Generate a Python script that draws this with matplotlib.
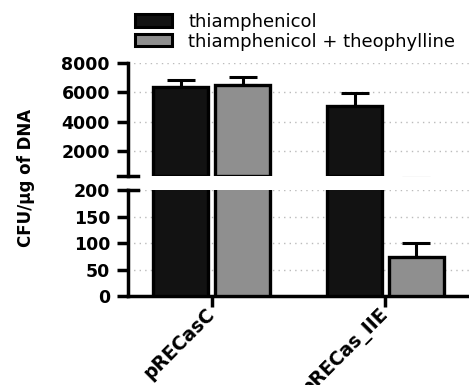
import numpy as np
import matplotlib.pyplot as plt
from matplotlib.patches import Patch
from matplotlib.lines import Line2D

plt.rcParams["font.family"] = ["DejaVu Sans"]

# ---------------------------------------------------------------------------
# Data
# ---------------------------------------------------------------------------
categories = ["pRECasC", "pRECas_IIE"]
series_names = ["thiamphenicol", "thiamphenicol + theophylline"]
thiam_mean = [6350, 5030]
thiam_err = [480, 900]
theo_mean = [6480, 74]
theo_err = [550, 26]

upper_ticks = [2000, 4000, 6000, 8000]
lower_ticks = [0, 50, 100, 150, 200]

colors = ["#121212", "#8f8f8f"]

# ---------------------------------------------------------------------------
# Figure: broken y axis made of two stacked axes
# ---------------------------------------------------------------------------
fig = plt.figure(figsize=(4.69, 3.85), dpi=100)
ax_hi = fig.add_axes([0.273, 0.543, 0.727, 0.293])
ax_lo = fig.add_axes([0.273, 0.231, 0.727, 0.275])

x = np.arange(len(categories))
w = 0.316
off = 0.178
hi_low = 270

for ax, base in ((ax_hi, hi_low), (ax_lo, 0)):
    for vals, errs, c, dx in ((thiam_mean, thiam_err, colors[0], -off),
                              (theo_mean, theo_err, colors[1], off)):
        vals = np.array(vals, dtype=float)
        heights = np.where(vals > base, vals - base, np.nan)
        ax.bar(x + dx, heights, bottom=base, width=w, color=c,
               edgecolor="black", linewidth=2.4, zorder=3)
        ax.errorbar(x + dx, vals, yerr=[np.zeros(len(errs)), errs], fmt="none",
                    ecolor="black", elinewidth=2.2, capsize=10, capthick=2.2,
                    zorder=2)
    ax.set_xlim(-0.48, 1.48)
    for s in ("top", "right"):
        ax.spines[s].set_visible(False)
    ax.spines["left"].set_linewidth(2.5)
    ax.yaxis.grid(True, linestyle=(0, (1, 3)), color="#bbbbbb", linewidth=1)
    ax.set_axisbelow(True)
    ax.tick_params(axis="y", width=2.5, length=8, pad=5)

# upper part
ax_hi.set_ylim(hi_low, 8000)
ax_hi.set_yticks(upper_ticks)
ax_hi.set_yticklabels([str(t) for t in upper_ticks], fontsize=12.5,
                      fontweight="bold")
ax_hi.spines["bottom"].set_visible(False)
ax_hi.set_xticks([])
ax_hi.add_line(Line2D([-0.03, 0.03], [0, 0], transform=ax_hi.transAxes,
                      color="black", linewidth=2.5, clip_on=False))

# lower part
ax_lo.set_ylim(0, 200)
ax_lo.set_yticks(lower_ticks)
ax_lo.set_yticklabels([str(t) for t in lower_ticks], fontsize=12.5,
                      fontweight="bold")
ax_lo.spines["bottom"].set_linewidth(2.5)
ax_lo.set_xticks(x)
ax_lo.set_xticklabels(categories, rotation=45, ha="right", va="center",
                      rotation_mode="anchor", fontsize=13.5, fontweight="bold")
ax_lo.tick_params(axis="x", width=2.5, length=8, pad=3)
ax_lo.add_line(Line2D([0, 0.03], [1, 1], transform=ax_lo.transAxes,
                      color="black", linewidth=2.5, clip_on=False))

fig.text(0.055, 0.539, "CFU/\u03bcg of DNA", rotation=90, ha="center",
         va="center", fontsize=12, fontweight="bold")

handles = [Patch(facecolor=c, edgecolor="black", linewidth=2.2) for c in colors]
fig.legend(handles, series_names, loc="upper left",
           bbox_to_anchor=(0.288, 0.967), frameon=False,
           borderpad=0, borderaxespad=0,
           handlelength=2.05, handleheight=0.67, handletextpad=0.9,
           labelspacing=0.1, prop={"size": 13})

fig.savefig("out.png", dpi=100)
